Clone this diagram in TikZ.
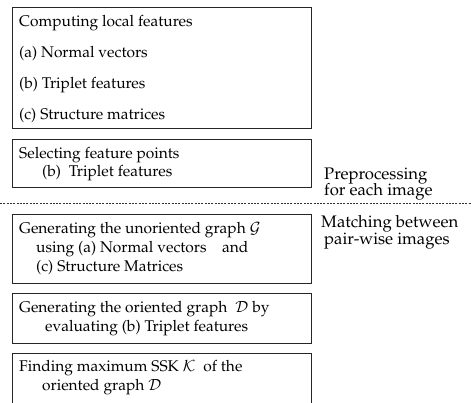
\documentclass[tikz,border=0pt]{standalone}
\usepackage[T1]{fontenc}
\usepackage{mathpazo}
\begin{document}
\begin{tikzpicture}[x=1pt,y=-1pt,
  box/.style={draw=black!85,line width=0.9pt},
  txt/.style={anchor=base west,inner sep=0pt,font=\fontsize{15.5}{18}\selectfont},
  lbl/.style={anchor=base west,inner sep=0pt,font=\fontsize{16.7}{18}\selectfont},
  sep/.style={draw=black!80,line width=0.6pt,dash pattern=on 2pt off 1.3pt}]
\clip (0,0) rectangle (471,402);
\fill[white] (0,0) rectangle (471,402);
% box 1
\draw[box] (12,7) rectangle (311,128);
\node[txt] (c1) at (19,26) {Computing local features};
\node[txt] (c2) at (19,57) {(a) Normal vectors};
\node[txt] (c3) at (19,88) {(b) Triplet features};
\node[txt] (c4) at (19,119) {(c) Structure matrices};
% box 2
\draw[box] (12,139) rectangle (311,187);
\node[txt] (s1) at (19,158) {Selecting feature points};
\node[txt] (s2) at (42,176) {(b)\ \ Triplet features};
% right labels
\node[lbl] (p1) at (324,179) {Preprocessing};
\node[lbl] (p2) at (324,195) {for each image};
% separator
\coordinate (dl) at (0,203);
\coordinate (dr) at (471,203);
\draw[sep] (dl) -- (dr);
\node[lbl] (m1) at (321,227) {Matching between};
\node[lbl] (m2) at (324,244) {pair-wise images};
% box 3
\draw[box] (12,214) rectangle (311,283);
\node[txt] (u1) at (19,233) {Generating the unoriented graph $\mathcal{G}$};
\node[txt] (u2) at (36,252) {using (a) Normal vectors\quad and};
\node[txt] (u3) at (36,271) {(c) Structure Matrices};
% box 4
\draw[box] (12,293) rectangle (311,343);
\node[txt] (o1) at (19,312) {Generating the oriented graph\ \ $\mathcal{D}$ by};
\node[txt] (o2) at (45,331) {evaluating (b) Triplet features};
% box 5
\draw[box] (12,353) rectangle (311,410);
\node[txt] (f1) at (19,371) {Finding maximum SSK $\mathcal{K}$\ \ of the};
\node[txt] (f2) at (42,390) {oriented graph $\mathcal{D}$};
\end{tikzpicture}
\end{document}
